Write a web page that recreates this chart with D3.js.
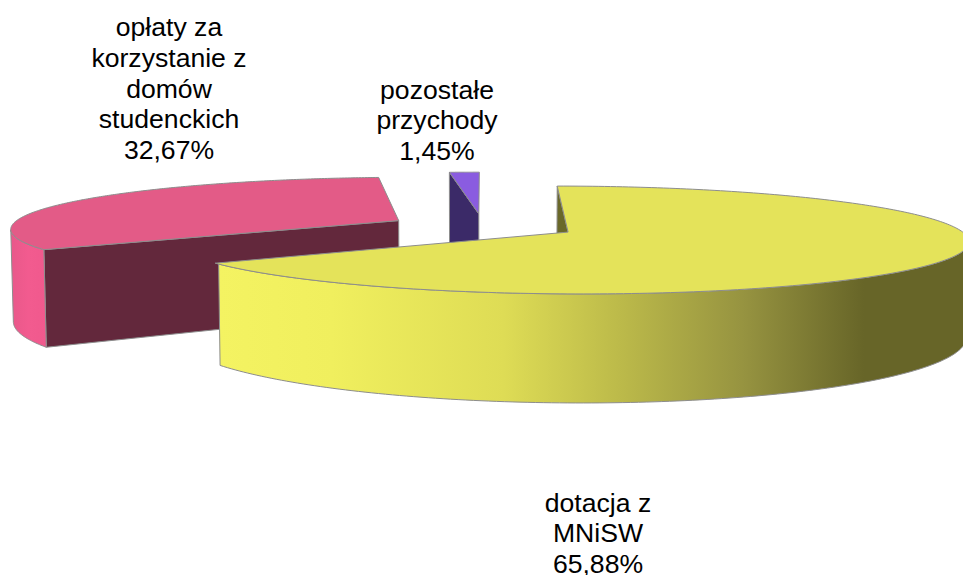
<!DOCTYPE html>
<html>
<head>
<meta charset="utf-8">
<script src="https://cdnjs.cloudflare.com/ajax/libs/d3/7.8.5/d3.min.js"></script>
<style>
html,body{margin:0;padding:0;background:#fff;overflow:hidden}
text{font-family:"Liberation Sans",Arial,sans-serif;fill:#000}
</style>
</head>
<body>
<svg id="chart" width="963" height="575"></svg>
<script>
// ---- data ----
const categories = ["dotacja z MNiSW", "opłaty za korzystanie z domów studenckich", "pozostałe przychody"];
const values = [65.88, 32.67, 1.45];
const labelLines = [
  ["dotacja z", "MNiSW"],
  ["opłaty za", "korzystanie z", "domów", "studenckich"],
  ["pozostałe", "przychody"]
];

// ---- styles / layout ----
const topColors = ["#E4E35A", "#E35B87", "#8A5CE0"];
const cutColors = ["#6A6829", "#63283C", "#3B2A68"];
const wallStops = [
  [[0, "#F4F362"], [0.15, "#F0EF5E"], [0.38, "#DEDC55"], [0.53, "#BDBB4A"], [0.70, "#969340"], [0.86, "#676528"], [1, "#676528"]],
  [[0, "#E8588A"], [0.5, "#F25B8F"], [1, "#F0598D"]],
  [[0, "#3B2A68"], [1, "#3B2A68"]]
];
const labelAnchor = [[598, 511.5], [169, 36], [437, 98.5]];
const fontSize = 26.6, lineGap = 30.75;

// perspective ground-plane model
const vx = 483, y0 = 226, R = 388, A = 51, persp = 0.144, thick = 91.5, lean = 0.0055, explode = 0.2455;

const svg = d3.select("#chart");
const defs = svg.append("defs");
const pie = d3.pie().sort(null).value(d => d);
const arcs = pie(values);
const line = d3.line();

function project(X, Z, lower) {
  const s = 1 / (1 - persp * Z);
  const sx = vx + X * R * s;
  const sy = y0 + A * Z * s;
  return lower ? [vx + (sx - vx) * (1 - lean), sy + thick * s] : [sx, sy];
}

const slices = arcs.map((a, i) => {
  const mid = (a.startAngle + a.endAngle) / 2;
  return {a, i, ex: explode * Math.sin(mid), ez: -explode * Math.cos(mid)};
}).sort((p, q) => p.ez - q.ez);

slices.forEach(sl => {
  const {a, i, ex, ez} = sl;
  const pt = (t, lower) => project(ex + Math.sin(t), ez - Math.cos(t), lower);
  const apex = lower => project(ex, ez, lower);
  const n = 240;
  const ts = d3.range(n + 1).map(k => a.startAngle + (a.endAngle - a.startAngle) * k / n);
  const g = svg.append("g").attr("class", "slice");
  const stroke = "#8d8d8d", sw = 1;

  // cut faces turned to the viewer
  const cut = (rimT) => line([apex(false), pt(rimT, false), pt(rimT, true), apex(true)]) + "Z";
  if (pt(a.startAngle, false)[0] < apex(false)[0]) {
    g.append("path").attr("d", cut(a.startAngle)).attr("fill", cutColors[i])
      .attr("stroke", stroke).attr("stroke-width", sw).attr("stroke-linejoin", "round");
  }

  // outer wall: only where the rim runs right-to-left on screen (the front side)
  const rim = ts.filter((t, k) => k < n && pt(ts[k + 1], false)[0] < pt(t, false)[0]);
  if (rim.length > 1) {
    const topRim = rim.map(t => pt(t, false));
    const botRim = rim.map(t => pt(t, true));
    const gx = d3.scaleLinear().domain([0, 1]).range(d3.extent(topRim.concat(botRim), p => p[0]));
    const id = "wall" + i;
    const grad = defs.append("linearGradient").attr("id", id)
      .attr("gradientUnits", "userSpaceOnUse")
      .attr("x1", gx(0)).attr("x2", gx(1)).attr("y1", 0).attr("y2", 0);
    wallStops[i].forEach(s => grad.append("stop").attr("offset", s[0]).attr("stop-color", s[1]));
    g.append("path").attr("d", line(topRim.concat(botRim.slice().reverse())) + "Z")
      .attr("fill", `url(#${id})`).attr("stroke", stroke).attr("stroke-width", sw);
  }

  // top surface
  g.append("path").attr("d", line([apex(false)].concat(ts.map(t => pt(t, false)))) + "Z")
    .attr("fill", topColors[i]).attr("stroke", stroke).attr("stroke-width", sw)
    .attr("stroke-linejoin", "round");
});

// labels
const pct = d3.format(".2f");
arcs.forEach((a, i) => {
  const lines = labelLines[i].concat([pct(values[i]).replace(".", ",") + "%"]);
  const t = svg.append("text").attr("text-anchor", "middle").attr("font-size", fontSize);
  lines.forEach((l, k) => t.append("tspan")
    .attr("x", labelAnchor[i][0]).attr("y", labelAnchor[i][1] + k * lineGap).text(l));
});
</script>
</body>
</html>
